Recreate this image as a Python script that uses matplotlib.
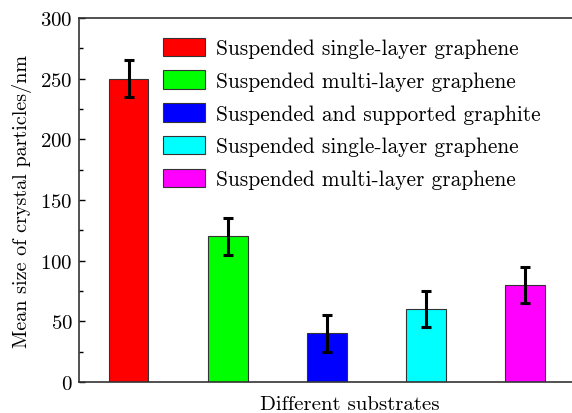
import numpy as np
import matplotlib
matplotlib.use('Agg')
import matplotlib.pyplot as plt
from matplotlib.ticker import MultipleLocator

# data
labels = ['Suspended single-layer graphene', 'Suspended multi-layer graphene',
          'Suspended and supported graphite', 'Suspended single-layer graphene',
          'Suspended multi-layer graphene']
sizes = [250, 120, 40, 60, 80]
errors = [15, 15, 15, 15, 15]
colors = ['#ff0000', '#00ff00', '#0000ff', '#00ffff', '#ff00ff']

plt.rcParams['font.family'] = 'serif'
plt.rcParams['font.serif'] = ['cmr10', 'DejaVu Serif']
plt.rcParams['axes.formatter.use_mathtext'] = True
plt.rcParams['mathtext.fontset'] = 'cm'

fig = plt.figure(figsize=(5.72, 4.14), dpi=100)
ax = fig.add_axes([0.138, 0.075, 0.867, 0.879])

x = np.arange(1, len(sizes) + 1)
bars = ax.bar(x, sizes, width=0.4, color=colors, edgecolor='#333333', linewidth=0.8,
              yerr=errors, error_kw=dict(ecolor='black', elinewidth=2.2, capsize=3.8, capthick=2.2))
# one legend entry per bar
handles = [b for b in bars.patches]
leg = ax.legend(handles, labels, loc='upper left', bbox_to_anchor=(0.153, 0.97),
                fontsize=15.4, frameon=False, handlelength=1.95, handleheight=0.95,
                labelspacing=0.57, handletextpad=0.5, borderaxespad=0)

ax.set_xlim(0.5, 5.5)
ax.set_ylim(0, 300)
ax.yaxis.set_major_locator(MultipleLocator(50))
ax.yaxis.set_minor_locator(MultipleLocator(25))
ax.tick_params(axis='y', which='both', direction='in', labelsize=15, pad=4.5)
ax.tick_params(axis='y', which='major', length=4, width=1)
ax.tick_params(axis='y', which='minor', length=3, width=1)
ax.set_xticks([])
ax.spines['right'].set_visible(False)
for s in ['left', 'bottom', 'top']:
    ax.spines[s].set_linewidth(1.2)
    ax.spines[s].set_color('#333333')

ax.set_ylabel('Mean size of crystal particles/nm', fontsize=14.5, labelpad=6)
ax.set_xlabel('Different substrates', fontsize=15, labelpad=10)
ax.xaxis.set_label_coords(0.546, -0.035, transform=ax.transAxes)
ax.xaxis.label.set_va('top')

fig.savefig('out.png', dpi=100)
